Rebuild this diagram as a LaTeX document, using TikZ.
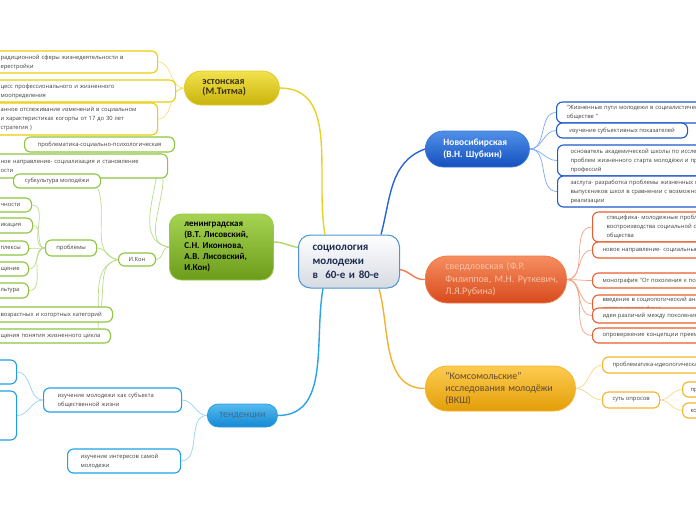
\documentclass[tikz,border=0pt]{standalone}
\usepackage{fontspec}
\setmainfont{Carlito}
\newfontfamily\leaffont{Open Sans}
\newcommand\olin[1]{\mbox{#1}}
\pgfdeclarelayer{back}
\pgfdeclarelayer{links}
\pgfsetlayers{back,links,main}
\definecolor{estT}{HTML}{F2E24C}\definecolor{estB}{HTML}{C9B30C}\definecolor{estD}{HTML}{E0CC2A}
\definecolor{estTx}{HTML}{3A3410}\definecolor{estL}{HTML}{E8CF0A}\definecolor{estC}{HTML}{F0E27A}
\definecolor{lenT}{HTML}{A6D452}\definecolor{lenB}{HTML}{6C9C1A}\definecolor{lenD}{HTML}{96C84A}
\definecolor{lenL}{HTML}{8DC63F}\definecolor{lenC}{HTML}{B9DC8C}
\definecolor{novT}{HTML}{5090E8}\definecolor{novB}{HTML}{1450BE}\definecolor{novD}{HTML}{3A78D8}
\definecolor{novL}{HTML}{2058C8}\definecolor{novC}{HTML}{7FA8EE}
\definecolor{svT}{HTML}{F68E60}\definecolor{svB}{HTML}{D84A1C}\definecolor{svD}{HTML}{F07A4A}
\definecolor{svTx}{HTML}{F8C2A6}\definecolor{svL}{HTML}{E85E2E}\definecolor{svC}{HTML}{F5A285}
\definecolor{kmT}{HTML}{FDCB50}\definecolor{kmB}{HTML}{E39E08}\definecolor{kmD}{HTML}{F5B52A}
\definecolor{kmTx}{HTML}{5E4A30}\definecolor{kmL}{HTML}{F6B428}\definecolor{kmC}{HTML}{F9D58C}
\definecolor{tnT}{HTML}{56BAEE}\definecolor{tnB}{HTML}{1388D4}\definecolor{tnD}{HTML}{2A9EE2}
\definecolor{tnTx}{HTML}{3A6E94}\definecolor{tnL}{HTML}{1EA0E6}\definecolor{tnC}{HTML}{96D2F2}
\definecolor{cB}{HTML}{D5DAE2}\definecolor{cD}{HTML}{4E94D4}\definecolor{cTx}{HTML}{1E2C50}
\definecolor{mEst}{HTML}{E8D22A}\definecolor{mNov}{HTML}{2A64D4}\definecolor{mSv}{HTML}{F07A52}
\definecolor{mKm}{HTML}{F2B430}\definecolor{mTn}{HTML}{2AA4E4}\definecolor{mLen}{HTML}{B0D66C}
\definecolor{leaftxt}{HTML}{404040}
\tikzset{
  leaf/.style={draw, line width=1.1pt, rounded corners=6pt, fill=white,
    font=\leaffont\fontsize{5.8}{9}\selectfont, text=leaftxt, inner xsep=10pt,
    inner ysep=1pt, anchor=west},
  mleaf/.style={leaf, align=left},
  hubnode/.style={line width=0.8pt, anchor=west, align=left},
  mainline/.style={line width=1.4pt},
  leafline/.style={line width=0.7pt},
}
\begin{document}
\begin{tikzpicture}[x=1pt,y=1pt]
\useasboundingbox (0,0) rectangle (696,-520);
\begin{pgfonlayer}{back}
\fill[white] (0,0) rectangle (696,-520);
\end{pgfonlayer}
\clip (0,0) rectangle (696,-520);

% central node
\node[hubnode, draw=cD, line width=1pt, top color=white, bottom color=cB, rounded corners=12pt,
  minimum width=101pt, minimum height=53pt, inner xsep=14pt, text width=73pt, text=cTx,
  font=\bfseries\fontsize{11}{14}\selectfont] (c) at (298,-261.5)
  {\olin{социология}\\\olin{молодежи}\\\olin{в\ \ 60-е и 80-е}};

% main branch nodes
\node[hubnode, draw=estD, top color=estT, bottom color=estB, rounded corners=17pt,
  minimum width=95pt, minimum height=34pt, inner xsep=18pt, text width=59pt, text=estTx,
  font=\bfseries\fontsize{10}{10.5}\selectfont] (est) at (184,-88)
  {\olin{эстонская}\\\olin{(М.Титма)}};
\node[hubnode, draw=lenD, top color=lenT, bottom color=lenB, rounded corners=12pt,
  minimum width=104pt, minimum height=66pt, inner xsep=15pt, text width=74pt, text=black,
  font=\bfseries\fontsize{9}{11}\selectfont] (len) at (169,-247)
  {\olin{ленинградская}\\\olin{(В.Т. Лисовский,}\\\olin{С.Н. Иконнова,}\\\olin{А.В. Лисовский,}\\\olin{И.Кон)}};
\node[hubnode, draw=novD, top color=novT, bottom color=novB, rounded corners=18pt,
  minimum width=104pt, minimum height=36pt, inner xsep=18pt, text width=68pt, text=white,
  font=\bfseries\fontsize{9.5}{11.5}\selectfont] (nov) at (425,-149)
  {\olin{Новосибирская}\\\olin{(В.Н. Шубкин)}};
\node[hubnode, draw=svD, top color=svT, bottom color=svB, rounded corners=22pt,
  minimum width=141pt, minimum height=47pt, inner xsep=20pt, text width=101pt, text=svTx,
  font=\fontsize{10}{12.5}\selectfont] (sver) at (425,-279.5)
  {\olin{свердловская (Ф.Р.}\\\olin{Филиппов, М.Н. Руткевич,}\\\olin{Л.Я.Рубина)}};
\node[hubnode, draw=kmD, top color=kmT, bottom color=kmB, rounded corners=22pt,
  minimum width=150pt, minimum height=45pt, inner xsep=20pt, text width=110pt, text=kmTx,
  font=\fontsize{10}{12}\selectfont] (kom) at (425,-388.5)
  {\olin{"Комсомольские"}\\\olin{исследования молодёжи}\\\olin{(ВКШ)}};
\node[hubnode, draw=tnD, top color=tnT, bottom color=tnB, rounded corners=11pt,
  minimum width=70pt, minimum height=23pt, align=center, text=tnTx,
  font=\fontsize{10}{12}\selectfont] (ten) at (207,-415.5) {тенденции};

% estonian leaves
\node[mleaf, draw=estL, minimum height=22pt, text width=147pt] (e1) at (-10,-62)
  {\olin{радиционной сферы жизнедеятельности в}\\ерестройки};
\node[mleaf, draw=estL, minimum height=22pt, text width=165pt] (e2) at (-10,-91)
  {\olin{цесс профессионального и жизненного}\\моопределения};
\node[mleaf, draw=estL, minimum height=32pt, text width=147pt] (e3) at (-10,-119)
  {\olin{анное отслеживание изменений в социальном}\\\olin{и характеристиках когорты от 17 до 30 лет}\\стратегия )};

% leningrad leaves
\node[leaf, draw=lenL, minimum height=15pt, minimum width=150pt] (g1) at (24,-144.5)
  {проблематика-социально-психологическая};
\node[mleaf, draw=lenL, minimum height=24pt, text width=157pt] (g2) at (-10,-166)
  {\olin{ное направление- социализация и становление}\\ости};
\node[leaf, draw=lenL, minimum height=14pt, minimum width=87pt] (g3) at (13,-181)
  {субкультура молодёжи};
\node[leaf, draw=lenL, minimum height=13pt, minimum width=37pt, inner xsep=4pt] (g4) at (118,-259.5)
  {И.Кон};
\node[leaf, draw=lenL, minimum height=16pt, minimum width=51pt, inner xsep=4pt] (g5) at (45,-248)
  {проблемы};
\node[mleaf, draw=lenL, minimum height=14pt, text width=21pt] (g6) at (-10,-205) {чности};
\node[mleaf, draw=lenL, minimum height=15pt, text width=22pt] (g7) at (-10,-225.5) {икация};
\node[mleaf, draw=lenL, minimum height=14pt, text width=18pt] (g8) at (-10,-248) {плексы};
\node[mleaf, draw=lenL, minimum height=14pt, text width=18pt] (g9) at (-10,-269) {щение};
\node[mleaf, draw=lenL, minimum height=15pt, text width=18pt] (g10) at (-10,-290.5) {льтура};
\node[mleaf, draw=lenL, minimum height=15pt, text width=102pt] (g11) at (-10,-314.5)
  {\olin{возрастных и когортных категорий}};
\node[mleaf, draw=lenL, minimum height=14pt, text width=100pt] (g12) at (-10,-336)
  {\olin{щения понятия жизненного цикла}};

% novosibirsk leaves
\node[mleaf, draw=novL, minimum height=21pt, text width=240pt] (b1) at (556,-112.5)
  {"Жизненные пути молодежи в социалистическом\\обществе "};
\node[leaf, draw=novL, minimum height=15pt, minimum width=131pt] (b2) at (556,-130.5)
  {изучение субъективных показателей};
\node[mleaf, draw=novL, minimum height=31pt, inner xsep=13pt, text width=240pt] (b3) at (557,-160.5)
  {основатель академической школы по исследованию\\проблем жизненного старта молодёжи и престижа\\профессий};
\node[mleaf, draw=novL, minimum height=31pt, inner xsep=13pt, text width=240pt] (b4) at (557,-191.5)
  {заслуга- разработка проблемы жизненных планов\\выпускников школ в сравнении с возможностями их\\реализации};

% sverdlovsk leaves
\node[mleaf, draw=svL, minimum height=30pt, inner xsep=14pt, text width=240pt] (s1) at (592,-227)
  {специфика- молодежные проблемы\\воспроизводства социальной структуры\\общества};
\node[mleaf, draw=svL, minimum height=16pt, text width=240pt] (s2) at (592,-250)
  {новое направление- социальные проблемы молодёжи};
\node[mleaf, draw=svL, minimum height=15pt, text width=240pt] (s3) at (592,-280.5)
  {монография "От поколения к поколению"};
\node[mleaf, draw=svL, minimum height=18pt, text width=240pt] (s4) at (592,-304)
  {введение в социологический анализ\\исторического фона};
\node[mleaf, draw=svL, minimum height=15pt, text width=240pt] (s5) at (592,-315.5)
  {идея различий между поколениями};
\node[mleaf, draw=svL, minimum height=15pt, text width=240pt] (s6) at (592,-335.5)
  {опровержение концепции преемственности};

% komsomol leaves
\node[mleaf, draw=kmL, minimum height=16pt, text width=240pt] (k1) at (602,-365)
  {проблематика-идеологическая};
\node[leaf, draw=kmL, minimum height=16pt, minimum width=57pt, inner xsep=4pt] (k2) at (602,-400)
  {суть опросов};
\node[mleaf, draw=kmL, minimum height=15pt, inner xsep=8pt, text width=200pt] (k3) at (682,-389.5)
  {проблемы молодежи};
\node[mleaf, draw=kmL, minimum height=15pt, inner xsep=8pt, text width=200pt] (k4) at (682,-410.5)
  {комсомольская работа};

% tendencies leaves
\node[mleaf, draw=tnL, minimum height=24pt, inner xsep=14pt, text width=110pt] (t1) at (43,-400)
  {изучение молодежи как субъекта\\общественной жизни};
\node[mleaf, draw=tnL, minimum height=24pt, inner xsep=13pt, text width=87pt] (t2) at (67,-461)
  {изучение интересов самой\\молодежи};
\node[leaf, draw=tnL, minimum height=24pt, minimum width=36pt] (t3) at (-20,-372) {};
\node[leaf, draw=tnL, minimum height=49pt, minimum width=36pt] (t4) at (-20,-415.5) {};

\begin{pgfonlayer}{links}
% main connectors
\draw[mainline, mEst] (est.east) to[out=0,in=100] ([xshift=-24pt]c.north);
\draw[mainline, mNov] ([xshift=32pt]c.north) to[out=75,in=200] (nov.west);
\draw[mainline, mSv] ([yshift=-8pt]c.east) to[out=-10,in=185] (sver.west);
\draw[mainline, mKm] ([xshift=30pt]c.south) to[out=-75,in=180] (kom.west);
\draw[mainline, mTn] ([xshift=-26pt]c.south) to[out=-100,in=0] (ten.east);
\draw[mainline, mLen] ([yshift=5pt]len.east) to[out=0,in=170] ([yshift=14pt]c.west);
% estonian
\foreach \n in {e1,e2,e3} \draw[leafline, estC] (est.west) to[out=180,in=0] (\n.east);
% leningrad
\draw[leafline, lenC] (len.west) to[out=170,in=-90] ([xshift=-16pt]g1.south east);
\draw[leafline, lenC] (len.west) to[out=175,in=-90] ([xshift=-5pt]g2.south east);
\draw[leafline, lenC] (len.west) to[out=180,in=0] (g4.east);
\draw[leafline, lenC] (g4.west) to[out=170,in=-70] ([xshift=-3pt]g3.south east);
\draw[leafline, lenC] (g4.west) to[out=180,in=0] (g5.east);
\draw[leafline, lenC] (g4.west) to[out=190,in=80] ([xshift=-12pt]g11.north east);
\draw[leafline, lenC] (g4.west) to[out=195,in=85] ([xshift=-13pt]g12.north east);
\foreach \n in {g6,g7,g8,g9,g10} \draw[leafline, lenC] (g5.west) to[out=180,in=0] (\n.east);
% novosibirsk
\foreach \n in {b1,b2,b3,b4} \draw[leafline, novC] (nov.east) to[out=0,in=180] (\n.west);
% sverdlovsk
\foreach \n in {s1,s2,s3,s4,s5,s6} \draw[leafline, svC] (sver.east) to[out=0,in=180] (\n.west);
% komsomol
\foreach \n in {k1,k2} \draw[leafline, kmC] (kom.east) to[out=0,in=180] (\n.west);
\foreach \n in {k3,k4} \draw[leafline, kmC] (k2.east) to[out=0,in=180] (\n.west);
% tendencies
\foreach \n in {t1,t2} \draw[leafline, tnC] (ten.west) to[out=180,in=0] (\n.east);
\foreach \n in {t3,t4} \draw[leafline, tnC] (t1.west) to[out=180,in=0] (\n.east);
\end{pgfonlayer}
\end{tikzpicture}
\end{document}
